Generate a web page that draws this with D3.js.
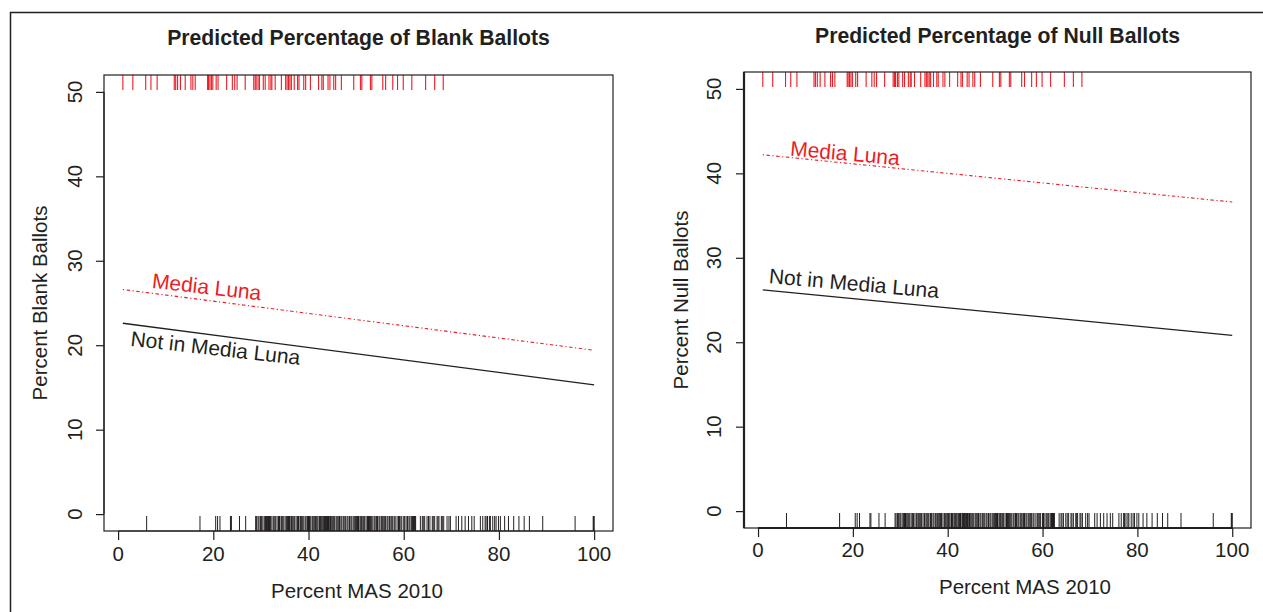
<!DOCTYPE html>
<html>
<head>
<meta charset="utf-8">
<script src="https://cdn.jsdelivr.net/npm/d3@7"></script>
<style>
  html, body { margin: 0; padding: 0; background: #fff; }
  svg { display: block; font-family: "Liberation Sans", Arial, sans-serif; }
</style>
</head>
<body>
<svg id="chart" width="1263" height="612"></svg>
<script>
// ---------------- DATA ----------------
const titles = ["Predicted Percentage of Blank Ballots", "Predicted Percentage of Null Ballots"];
const yLabels = ["Percent Blank Ballots", "Percent Null Ballots"];
const xLabel = "Percent MAS 2010";
const xTicks = [0, 20, 40, 60, 80, 100];
const yTicks = [0, 10, 20, 30, 40, 50];
const seriesNames = ["Media Luna", "Not in Media Luna"];

// predicted lines: x endpoints and y values
const lineX = [1, 100];
const blankMediaLuna = [26.6, 19.4];
const blankNotMediaLuna = [22.6, 15.3];
const nullMediaLuna = [42.2, 36.6];
const nullNotMediaLuna = [26.2, 20.8];

// rug: Percent MAS 2010 of municipalities
const rugMediaLuna = [1.0, 3.1, 5.8, 6.9, 8.2, 11.8, 12.1, 12.5, 13.1, 14.1, 15.3, 15.7, 16.2,
  18.8, 19.0, 19.3, 19.6, 19.9, 20.6, 21.0, 22.8, 24.0, 24.5, 25.0, 26.7, 28.5, 28.8, 29.0, 29.4, 29.7,
  30.5, 30.9, 31.7, 32.1, 32.3, 33.0, 34.3, 35.2, 35.5, 35.8, 36.1, 36.4, 37.0, 37.7, 38.0, 39.0, 39.4,
  40.4, 42.1, 42.8, 43.1, 44.1, 44.5, 45.3, 45.7, 46.9, 49.5, 50.9, 51.2, 53.0, 53.3, 55.6,
  56.2, 57.7, 58.7, 59.9, 61.7, 64.6, 66.5, 68.3];
const rugNotMediaLuna = [6.0, 17.2, 20.5, 20.9, 21.4, 23.6, 23.8, 25.5, 26.8, 28.9, 29.1, 29.4, 29.6,
  29.9, 30.1, 30.4, 30.7, 30.9, 31.0, 31.1, 31.2, 31.4, 31.6, 31.8, 32.0, 32.3, 32.6, 32.8, 33.1, 33.4,
  33.7, 33.9, 34.0, 34.3, 34.5, 34.8, 35.1, 35.4, 35.6, 35.8, 36.0, 36.3, 36.4, 36.6, 36.9, 37.1, 37.4,
  37.7, 37.9, 38.0, 38.3, 38.5, 38.7, 39.0, 39.3, 39.5, 39.8, 40.0, 40.2, 40.3, 40.5, 40.8, 41.0, 41.3,
  41.5, 41.6, 41.8, 42.0, 42.3, 42.5, 42.7, 43.0, 43.1, 43.3, 43.4, 43.5, 43.6, 43.8, 43.9, 44.0, 44.1,
  44.2, 44.3, 44.5, 44.6, 44.7, 44.9, 45.1, 45.3, 45.5, 45.8, 46.0, 46.2, 46.4, 46.5, 46.8, 47.0, 47.3,
  47.5, 47.8, 48.1, 48.3, 48.6, 48.9, 49.1, 49.4, 49.7, 49.9, 50.1, 50.3, 50.5, 50.8, 51.0, 51.1, 51.4,
  51.6, 51.8, 52.1, 52.4, 52.6, 52.8, 53.0, 53.2, 53.5, 53.8, 54.0, 54.3, 54.5, 54.8, 55.0, 55.3, 55.5,
  55.7, 56.0, 56.2, 56.5, 56.7, 57.0, 57.3, 57.5, 57.7, 58.0, 58.2, 58.6, 58.9, 59.1, 59.4, 59.6, 60.0,
  60.2, 60.5, 60.8, 61.1, 61.3, 61.6, 61.8, 61.9, 62.0, 62.1, 62.2, 62.3, 62.4, 62.5, 63.5, 63.9, 64.1,
  64.4, 64.9, 65.2, 65.5, 66.0, 66.2, 66.5, 67.0, 67.2, 67.4, 67.9, 68.1, 68.4, 69.1, 69.5, 69.8, 71.0,
  71.5, 72.2, 72.9, 73.6, 74.3, 74.8, 76.1, 76.6, 77.1, 77.3, 77.6, 78.0, 78.2, 78.7, 79.1, 79.4, 79.9,
  80.3, 81.2, 82.0, 83.1, 84.2, 85.3, 86.4, 89.2, 96.0, 99.8, 99.9, 100.0];

// ---------------- LAYOUT ----------------
const RED = "#ec1c24";
const INK = "#231f20";
const FS = 20.5;

const panels = [
  { title: titles[0], yLabel: yLabels[0], ml: blankMediaLuna, nml: blankNotMediaLuna,
    box: { l: 104, r: 613, t: 75, b: 531 }, titleY: 45, xTickY: 561, xLabelX: 357, xLabelY: 598,
    yTickX: 82, yLabelX: 47, angle: 6.5, mlAt: [7.0, 26.8], nmlAt: [2.5, 19.95], thick: false },
  { title: titles[1], yLabel: yLabels[1], ml: nullMediaLuna, nml: nullNotMediaLuna,
    box: { l: 744, r: 1251, t: 72, b: 528 }, titleY: 43, xTickY: 557, xLabelX: 1025, xLabelY: 594,
    yTickX: 721, yLabelX: 688, angle: 5, mlAt: [6.7, 42.1], nmlAt: [2.2, 27.0], thick: true }
];

const svg = d3.select("#chart");

// outer frame
svg.append("path")
  .attr("d", "M10.5,612 L10.5,12.5 L1263,12.5")
  .attr("fill", "none").attr("stroke", INK).attr("stroke-width", 1.5);

panels.forEach(p => {
  const g = svg.append("g");
  const x = d3.scaleLinear().domain([-2.96, 103.96]).range([p.box.l, p.box.r]);
  const y = d3.scaleLinear().domain([-2, 52]).range([p.box.b, p.box.t]);

  // title
  g.append("text").attr("x", (p.box.l + p.box.r) / 2).attr("y", p.titleY)
    .attr("text-anchor", "middle").attr("font-weight", "bold").attr("font-size", 21.2)
    .attr("fill", INK).text(p.title);

  // rugs
  g.selectAll("line.rugTop").data(rugMediaLuna).enter().append("line")
    .attr("x1", d => x(d)).attr("x2", d => x(d))
    .attr("y1", p.box.t).attr("y2", p.box.t + 15)
    .attr("stroke", RED).attr("stroke-width", 1.1);
  g.selectAll("line.rugBot").data(rugNotMediaLuna).enter().append("line")
    .attr("x1", d => x(d)).attr("x2", d => x(d))
    .attr("y1", p.box.b).attr("y2", p.box.b - 15)
    .attr("stroke", INK).attr("stroke-width", 1);

  // box
  g.append("rect").attr("x", p.box.l).attr("y", p.box.t)
    .attr("width", p.box.r - p.box.l).attr("height", p.box.b - p.box.t)
    .attr("fill", "none").attr("stroke", INK).attr("stroke-width", 1.2);

  // x axis
  const xa = g.append("g").attr("transform", `translate(0,${p.box.b})`)
    .call(d3.axisBottom(x).tickValues(xTicks).tickSize(9).tickSizeOuter(0).tickFormat(""));
  xa.select(".domain").attr("d", `M${x(0)},0H${x(100)}`).attr("stroke", INK)
    .attr("stroke-width", p.thick ? 2.2 : 1.2);
  xa.selectAll(".tick line").attr("stroke", INK).attr("stroke-width", 1.2);
  g.selectAll("text.xt").data(xTicks).enter().append("text")
    .attr("x", d => x(d)).attr("y", p.xTickY).attr("text-anchor", "middle")
    .attr("font-size", FS).attr("fill", INK).text(d => d);
  g.append("text").attr("x", p.xLabelX).attr("y", p.xLabelY).attr("text-anchor", "middle")
    .attr("font-size", FS).attr("fill", INK).text(xLabel);

  // y axis
  const ya = g.append("g").attr("transform", `translate(${p.box.l},0)`)
    .call(d3.axisLeft(y).tickValues(yTicks).tickSize(8).tickSizeOuter(0).tickFormat(""));
  ya.select(".domain").attr("d", p.thick ? `M0,${p.box.t}V${p.box.b}` : `M0,${y(0)}V${y(50)}`)
    .attr("stroke", INK).attr("stroke-width", p.thick ? 2.2 : 1.2);
  ya.selectAll(".tick line").attr("stroke", INK).attr("stroke-width", 1.2);
  g.selectAll("text.yt").data(yTicks).enter().append("text")
    .attr("transform", d => `translate(${p.yTickX},${y(d)}) rotate(-90)`)
    .attr("text-anchor", "middle").attr("font-size", FS).attr("fill", INK).text(d => d);
  g.append("text")
    .attr("transform", `translate(${p.yLabelX},${(p.box.t + p.box.b) / 2}) rotate(-90)`)
    .attr("text-anchor", "middle").attr("font-size", FS).attr("fill", INK).text(p.yLabel);

  // prediction lines
  const line = d3.line().x(d => x(d[0])).y(d => y(d[1]));
  g.append("path").datum(lineX.map((v, i) => [v, p.ml[i]])).attr("d", line)
    .attr("fill", "none").attr("stroke", RED).attr("stroke-width", 1.1)
    .attr("stroke-dasharray", "1.2,2.5,3.5,2.5");
  g.append("path").datum(lineX.map((v, i) => [v, p.nml[i]])).attr("d", line)
    .attr("fill", "none").attr("stroke", INK).attr("stroke-width", 1.3);

  // line labels
  g.append("text")
    .attr("transform", `translate(${x(p.mlAt[0])},${y(p.mlAt[1])}) rotate(${p.angle})`)
    .attr("font-size", 21).attr("fill", RED).text(seriesNames[0]);
  g.append("text")
    .attr("transform", `translate(${x(p.nmlAt[0])},${y(p.nmlAt[1])}) rotate(${p.angle})`)
    .attr("font-size", 21).attr("fill", INK).text(seriesNames[1]);
});
</script>
</body>
</html>
